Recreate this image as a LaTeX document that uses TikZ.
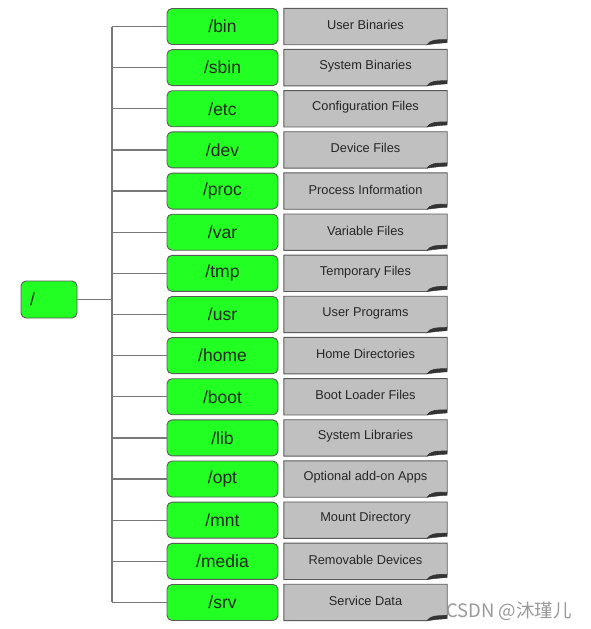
\documentclass[tikz,border=0pt]{standalone}
\usepackage{fontspec}
\setmainfont{Liberation Sans}
\newfontfamily\cjk{Noto Sans CJK SC}
\usetikzlibrary{calc}

\definecolor{dirgreen}{RGB}{34,255,34}
\definecolor{notegray}{RGB}{192,192,192}
\definecolor{edgegray}{RGB}{90,90,90}
\definecolor{linegray}{RGB}{120,120,120}

\tikzset{
  dirbox/.style={draw=edgegray, fill=dirgreen, rounded corners=5pt, line width=0.9pt,
    minimum width=111pt, minimum height=36pt, inner sep=0pt,
    font=\fontsize{17.5}{20}\selectfont, text=black!85},
  notebox/.style={minimum width=163pt, minimum height=36pt, inner sep=0pt,
    font=\fontsize{12.8}{15}\selectfont, text=black!85},
  branch/.style={draw=linegray, line width=1.2pt},
}

\begin{document}
\begin{tikzpicture}[x=1pt,y=-1pt]
        \useasboundingbox (0,0) rectangle (590,629);
        % root
        \node[dirbox, minimum width=56pt, minimum height=37pt, text width=38pt,
          inner xsep=9pt, align=left] (root) at (49,299.5) {/};
        \foreach \i/\dir/\desc in {1/bin/User Binaries,2/sbin/System Binaries,
            3/etc/Configuration Files,4/dev/Device Files,5/proc/Process Information,
            6/var/Variable Files,7/tmp/Temporary Files,8/usr/User Programs,
            9/home/Home Directories,10/boot/Boot Loader Files,11/lib/System Libraries,
            12/opt/Optional add-on Apps,13/mnt/Mount Directory,14/media/Removable Devices,
            15/srv/Service Data} {
          \pgfmathsetmacro\y{26.5+41.14*(\i-1)}
          \coordinate (t\i) at (112,\y);
          \node[dirbox] (d\i) at (222.5,\y) {/\dir};
          \node[notebox] (n\i) at (365.5,\y) {};
          % folded note
          \filldraw[fill=notegray, draw=edgegray, line width=0.9pt]
            (n\i.north west) -- (n\i.north east) -- ([yshift=5pt]n\i.south east)
            .. controls ([xshift=-12pt,yshift=5pt]n\i.south east) and ([xshift=-17pt,yshift=4.5pt]n\i.south east)
            .. ([xshift=-20pt]n\i.south east) -- (n\i.south west) -- cycle;
          \filldraw[fill=black!80, draw=black!80, line width=0.4pt]
            ([xshift=-20pt]n\i.south east)
            .. controls ([xshift=-17pt,yshift=4.5pt]n\i.south east) and ([xshift=-12pt,yshift=5pt]n\i.south east)
            .. ([yshift=5pt]n\i.south east) -- ([yshift=2pt]n\i.south east)
            .. controls ([xshift=-8pt,yshift=1.5pt]n\i.south east) .. cycle;
          \node[notebox, yshift=1.5pt] at (n\i) {\desc};
          \draw[branch] (t\i) -- (d\i);
        }
        \draw[branch] (t1) -- (t15);
        \draw[branch] (root) -- (root -| t1);
        % watermark
        \node[text=black!40, font=\cjk\fontsize{18.5}{22}\selectfont] (mark) at (509,611) {CSDN @沐瑾儿};
      \end{tikzpicture}
\end{document}
